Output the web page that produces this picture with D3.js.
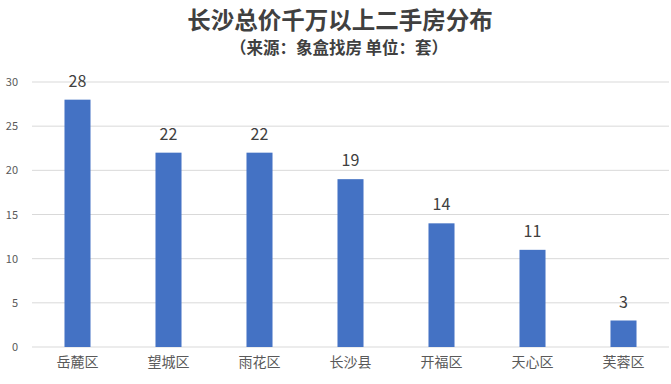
<!DOCTYPE html>
<html>
<head>
<meta charset="utf-8">
<script src="https://cdn.jsdelivr.net/npm/d3@7"></script>
<style>
  body { margin: 0; background: #fff; }
  svg text { font-family: "Microsoft YaHei", "Noto Sans CJK SC", sans-serif; }
</style>
</head>
<body>
<div id="chart"></div>
<script>
// districts and counts (unit: 套)
var districts = ["岳麓区", "望城区", "雨花区", "长沙县", "开福区", "天心区", "芙蓉区"];
var counts = [28, 22, 22, 19, 14, 11, 3];
var yTicks = [0, 5, 10, 15, 20, 25, 30];

var W = 671, H = 384;
var margin = {top: 82, right: 2, bottom: 37, left: 32};
var width = W - margin.left - margin.right;
var height = H - margin.top - margin.bottom;

var svg = d3.select("#chart").append("svg")
  .attr("width", W)
  .attr("height", H);

svg.append("text")
  .attr("x", 340)
  .attr("y", 29)
  .attr("text-anchor", "middle")
  .attr("font-size", "23.5px")
  .attr("font-weight", "bold")
  .attr("fill", "#404040")
  .text("长沙总价千万以上二手房分布");

svg.append("text")
  .attr("x", 339)
  .attr("y", 54)
  .attr("text-anchor", "middle")
  .attr("font-size", "16.5px")
  .attr("font-weight", "bold")
  .attr("fill", "#404040")
  .text("（来源：象盒找房 单位：套）");

var g = svg.append("g")
  .attr("transform", "translate(" + margin.left + "," + margin.top + ")");

var x = d3.scaleBand()
  .domain(districts)
  .range([0, width])
  .paddingInner(0.714)
  .paddingOuter(0.357);

var y = d3.scaleLinear()
  .domain([0, 30])
  .range([height, 0]);

// gridlines
g.selectAll("line.grid")
  .data(yTicks)
  .enter().append("line")
  .attr("class", "grid")
  .attr("x1", 0)
  .attr("x2", width)
  .attr("y1", function(d) { return y(d); })
  .attr("y2", function(d) { return y(d); })
  .attr("stroke", "#d9d9d9")
  .attr("stroke-width", 1);

// y axis labels
var yAxis = d3.axisLeft(y).tickValues(yTicks).tickSize(0).tickPadding(14);
g.append("g")
  .call(yAxis)
  .call(function(s) { s.select(".domain").remove(); })
  .selectAll("text")
  .attr("font-size", "11px")
  .attr("fill", "#595959");

// x axis labels
var xAxis = d3.axisBottom(x).tickSize(0).tickPadding(10);
g.append("g")
  .attr("transform", "translate(0," + height + ")")
  .call(xAxis)
  .call(function(s) { s.select(".domain").remove(); })
  .selectAll("text")
  .attr("font-size", "14px")
  .attr("fill", "#595959");

// bars
g.selectAll("rect.bar")
  .data(counts)
  .enter().append("rect")
  .attr("class", "bar")
  .attr("x", function(d, i) { return x(districts[i]); })
  .attr("y", function(d) { return y(d); })
  .attr("width", x.bandwidth())
  .attr("height", function(d) { return height - y(d); })
  .attr("fill", "#4472c4");

// value labels
g.selectAll("text.val")
  .data(counts)
  .enter().append("text")
  .attr("class", "val")
  .attr("x", function(d, i) { return x(districts[i]) + x.bandwidth() / 2; })
  .attr("y", function(d) { return y(d) - 13; })
  .attr("text-anchor", "middle")
  .attr("font-size", "16px")
  .attr("fill", "#404040")
  .text(function(d) { return d; });
</script>
</body>
</html>
